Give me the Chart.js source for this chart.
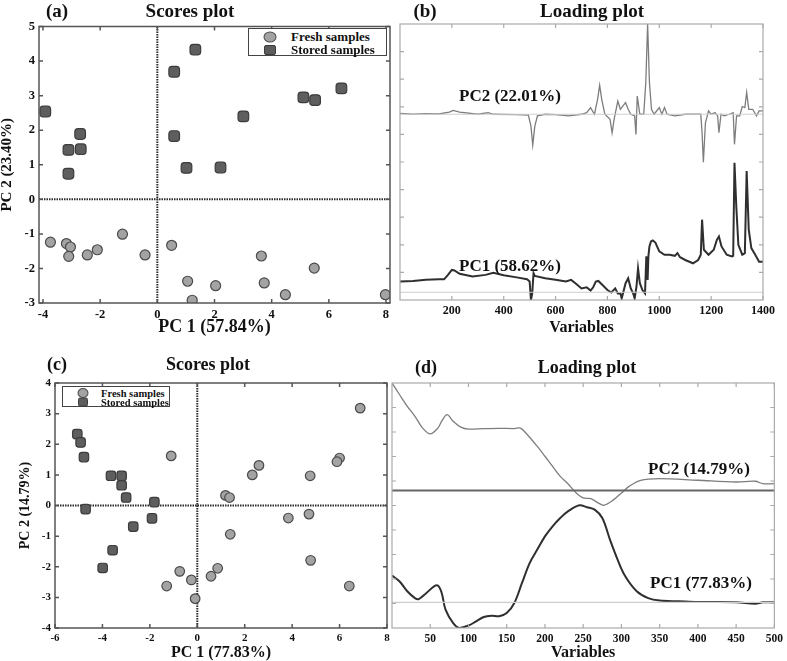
<!DOCTYPE html>
<html>
<head>
<meta charset="utf-8">
<script src="https://cdn.jsdelivr.net/npm/chart.js@4.4.1/dist/chart.umd.min.js"></script>
<style>
  body { margin: 0; background: #fff; width: 787px; height: 661px; position: relative; overflow: hidden;
         font-family: 'Liberation Serif', 'Times New Roman', serif; font-weight: bold; color: #111; }
  .box { position: absolute; }
  .txt { position: absolute; white-space: nowrap; transform: translate(-50%, -50%); }
  .legend { position: absolute; border: 1px solid #444; background: #fff; }
  .legend div { position: absolute; white-space: nowrap; transform: translateY(-50%); }
  .mk { position: absolute; transform: translate(-50%, -50%); }
  .mk.fresh { background: #a3a3a3; border: 1px solid #4a4a4a; border-radius: 50%; }
  .mk.stored { background: #5e5e5e; border: 1px solid #3c3c3c; border-radius: 2px; }
</style>
</head>
<body>
<div class="box" style="left:0;top:15px;width:401px;height:327px"><canvas id="chartA"></canvas></div>
<div class="box" style="left:396px;top:15px;width:391px;height:327px"><canvas id="chartB"></canvas></div>
<div class="box" style="left:18px;top:370px;width:377px;height:291px"><canvas id="chartC"></canvas></div>
<div class="box" style="left:388px;top:370px;width:399px;height:291px"><canvas id="chartD"></canvas></div>

<div class="txt" style="left:57px;top:11px;font-size:19px">(a)</div>
<div class="txt" style="left:190px;top:11px;font-size:19px">Scores plot</div>
<div class="txt" style="left:425px;top:11px;font-size:19px">(b)</div>
<div class="txt" style="left:592px;top:11px;font-size:19px">Loading plot</div>
<div class="txt" style="left:57px;top:364px;font-size:18px">(c)</div>
<div class="txt" style="left:208px;top:364px;font-size:18px">Scores plot</div>
<div class="txt" style="left:426px;top:367px;font-size:18px">(d)</div>
<div class="txt" style="left:587px;top:367px;font-size:18px">Loading plot</div>

<div class="txt" style="left:510px;top:96px;font-size:17px">PC2 (22.01%)</div>
<div class="txt" style="left:510px;top:266px;font-size:17px">PC1 (58.62%)</div>
<div class="txt" style="left:699px;top:469px;font-size:17px">PC2 (14.79%)</div>
<div class="txt" style="left:701px;top:583px;font-size:17px">PC1 (77.83%)</div>

<div class="legend" style="left:248px;top:28px;width:137px;height:26px;font-size:13px">
  <span class="mk fresh" style="left:21px;top:8px;width:11px;height:9px"></span>
  <div style="left:42px;top:8px">Fresh samples</div>
  <span class="mk stored" style="left:21px;top:21px;width:10px;height:8px"></span>
  <div style="left:42px;top:21px">Stored samples</div>
</div>
<div class="legend" style="left:62px;top:386px;width:106px;height:19px;font-size:10.5px">
  <span class="mk fresh" style="left:20px;top:6px;width:9px;height:8px"></span>
  <div style="left:38px;top:6px">Fresh samples</div>
  <span class="mk stored" style="left:20px;top:15px;width:8px;height:7px"></span>
  <div style="left:38px;top:15px">Stored samples</div>
</div>

<script>
// ---- (a) scores, PC1 (57.84%) vs PC2 (23.40%)
const freshAx = [-3.74, -3.18, -3.04, -3.10, -2.45, -2.10, -1.22, -0.43, 0.50, 1.06, 1.22, 2.04, 3.64, 3.74, 4.48, 5.49, 7.98];
const freshAy = [-1.24, -1.28, -1.38, -1.65, -1.61, -1.46, -1.01, -1.61, -1.33, -2.37, -2.92, -2.50, -1.64, -2.42, -2.76, -1.99, -2.76];
const storedAx = [-3.92, -3.11, -3.11, -2.70, -2.68, 0.59, 1.33, 0.59, 1.02, 2.21, 3.01, 5.11, 5.52, 6.44];
const storedAy = [2.54, 1.43, 0.74, 1.89, 1.45, 3.69, 4.33, 1.83, 0.91, 0.92, 2.40, 2.95, 2.87, 3.21];
const ticksAx = [-4, -2, 0, 2, 4, 6, 8];
const ticksAy = [-3, -2, -1, 0, 1, 2, 3, 4, 5];

// ---- (c) scores, PC1 (77.83%) vs PC2 (14.79%)
const freshCx = [-1.10, 6.87, 6.00, 5.89, 4.76, 2.60, 2.32, 1.19, 1.36, 4.71, 3.84, 1.39, 4.78, 6.41, -0.74, 0.86, 0.58, -0.25, -1.29, -0.09];
const freshCy = [1.62, 3.18, 1.55, 1.43, 0.97, 1.31, 1.00, 0.33, 0.26, -0.28, -0.41, -0.94, -1.79, -2.63, -2.15, -2.05, -2.31, -2.43, -2.63, -3.04];
const storedCx = [-5.06, -4.92, -4.78, -4.71, -3.64, -3.19, -3.19, -3.00, -1.81, -1.91, -2.70, -3.57, -3.99];
const storedCy = [2.33, 2.06, 1.58, -0.12, 0.97, 0.97, 0.66, 0.26, 0.11, -0.42, -0.69, -1.46, -2.04];
const ticksCx = [-6, -4, -2, 0, 2, 4, 6, 8];
const ticksCy = [-4, -3, -2, -1, 0, 1, 2, 3, 4];

// ---- (b) loadings, [variable, offset loading] (arbitrary units, curves stacked)
const pc2B = [[0,67.6],[50,67.3],[100,67.5],[150,67.4],[190,68.1],[205,68.7],[230,68.1],[300,67.3],[340,67.9],[360,67.3],
  [450,67.2],[495,67.0],[505,63.0],[512,56.1],[520,63.0],[530,66.7],[560,67.3],[600,67.2],[650,66.7],[700,67.3],
  [720,67.9],[735,69.7],[750,67.3],[762,72.7],[770,77.8],[778,72.7],[790,67.3],[810,65.5],[818,60.6],[826,65.5],
  [840,72.1],[850,69.1],[860,70.3],[870,71.5],[880,69.1],[890,67.3],[905,66.7],[910,60.0],[915,73.9],[925,67.3],
  [940,67.3],[948,78.8],[955,100],[962,78.8],[970,69.1],[980,67.3],[1000,69.7],[1010,67.3],[1020,69.7],[1030,67.3],
  [1060,66.7],[1100,67.3],[1160,67.3],[1165,60.6],[1170,49.9],[1178,64.2],[1190,68.5],[1200,67.3],[1215,67.9],[1225,66.7],
  [1230,60.6],[1238,67.3],[1250,66.7],[1270,67.3],[1285,67.9],[1290,56.4],[1298,66.7],[1310,66.7],[1320,70.1],[1330,69.7],
  [1337,75.2],[1345,69.1],[1360,69.1],[1375,66.7],[1385,68.5],[1400,68.5]];
const pc1B = [[0,6.7],[50,6.9],[100,7.3],[150,7.5],[170,7.5],[185,9.1],[200,10.9],[210,10.7],[230,9.5],[280,8.5],
  [330,9.1],[360,9.9],[400,9.0],[450,8.2],[490,7.5],[500,6.7],[505,0],[510,2.4],[515,9.7],[520,8.7],
  [560,7.9],[600,7.3],[640,6.7],[660,7.3],[680,5.8],[700,4.2],[720,4.6],[735,3.4],[745,4.6],[755,6.7],
  [765,6.9],[780,5.5],[800,3.6],[815,2.7],[830,4.2],[840,2.4],[850,2.4],[855,0.6],[860,2.4],[870,6.1],
  [880,7.9],[890,4.2],[900,2.2],[905,0.6],[912,4.8],[918,11.5],[925,6.1],[935,3.6],[945,2.4],[950,15.8],
  [955,7.3],[958,15.8],[962,19.4],[968,21.2],[975,21.6],[985,20.8],[1000,17.6],[1020,16.4],[1040,16.4],[1060,16.0],
  [1070,17.0],[1080,15.5],[1100,14.5],[1130,13.3],[1150,14.5],[1160,16.4],[1165,29.1],[1172,18.2],[1190,16.4],[1210,18.2],
  [1222,21.8],[1230,23.0],[1240,19.4],[1260,16.4],[1280,15.8],[1285,16.0],[1290,49.7],[1297,33.9],[1305,20.0],[1320,16.4],
  [1330,17.0],[1337,46.7],[1345,25.5],[1355,18.8],[1370,16.4],[1385,13.9],[1400,13.9]];
const baseB = [67.3, 2.8];   // zero lines of PC2, PC1
const ticksBx = [200, 400, 600, 800, 1000, 1200, 1400];

// ---- (d) loadings
const pc2D = [[0,100],[10,95.2],[20,90.5],[30,86.4],[40,81.6],[50,79.2],[60,81.6],[65,84.4],[72,87.1],[80,84.4],
  [90,82.0],[100,81.2],[120,81.4],[140,81.5],[160,81.4],[168,81.6],[175,79.6],[190,74.1],[200,70.1],[210,66.0],
  [220,61.9],[230,58.9],[240,55.4],[250,53.1],[260,52.8],[270,51.0],[277,50.1],[290,52.4],[300,55.1],[310,57.8],
  [325,60.3],[350,61.0],[400,60.3],[450,59.6],[475,59.9],[485,58.9],[500,58.9]];
const pc1D = [[0,21.4],[10,19.0],[20,15.0],[30,12.2],[35,11.8],[45,14.3],[55,17.0],[60,17.3],[65,14.3],[70,7.5],
  [80,2.0],[88,0],[100,1.0],[110,2.7],[120,4.5],[130,5.0],[140,4.8],[150,6.1],[160,10.2],[170,18.4],
  [180,26.5],[190,32.0],[200,37.4],[210,41.5],[220,44.9],[230,47.6],[245,50.1],[255,49.3],[265,48.3],[275,44.9],
  [285,36.1],[295,27.9],[305,21.1],[320,15.0],[335,12.2],[350,11.2],[375,10.9],[400,10.6],[450,10.5],[475,9.9],
  [485,10.5],[500,10.5]];
const baseD = [56.1, 10.5];
const ticksDx = [50, 100, 150, 200, 250, 300, 350, 400, 450, 500];
const ticksLoadY = [10, 20, 30, 40, 50, 60, 70, 80, 90];

Chart.defaults.font.family = "'Liberation Serif', 'Times New Roman', serif";
Chart.defaults.font.weight = 'bold';
Chart.defaults.color = '#111';

// box round the plot, inward tick marks, dotted zero lines
const framePlugin = {
  id: 'frame',
  beforeDatasetsDraw(chart, args, opts) {
    if (!opts.zero) return;
    const {ctx, chartArea: a, scales: {x, y}} = chart;
    ctx.save();
    ctx.strokeStyle = '#2a2a2a';
    ctx.lineWidth = 2;
    ctx.setLineDash([1.5, 1]);
    const x0 = x.getPixelForValue(0), y0 = y.getPixelForValue(0);
    ctx.beginPath();
    ctx.moveTo(x0, a.top); ctx.lineTo(x0, a.bottom);
    ctx.moveTo(a.left, y0); ctx.lineTo(a.right, y0);
    ctx.stroke();
    ctx.restore();
  },
  afterDatasetsDraw(chart, args, opts) {
    const {ctx, chartArea: a, scales: {x, y}} = chart;
    ctx.save();
    ctx.strokeStyle = opts.color;
    ctx.lineWidth = opts.width;
    ctx.strokeRect(a.left, a.top, a.right - a.left, a.bottom - a.top);
    const len = 4;
    ctx.beginPath();
    x.ticks.forEach(t => {
      const p = x.getPixelForValue(t.value);
      ctx.moveTo(p, a.bottom); ctx.lineTo(p, a.bottom - len);
      ctx.moveTo(p, a.top); ctx.lineTo(p, a.top + len);
    });
    y.ticks.forEach(t => {
      const p = y.getPixelForValue(t.value);
      ctx.moveTo(a.left, p); ctx.lineTo(a.left + len, p);
      ctx.moveTo(a.right, p); ctx.lineTo(a.right - len, p);
    });
    ctx.stroke();
    ctx.restore();
  }
};

function pts(xs, ys) {
  return xs.map((v, i) => ({x: v, y: ys[i]}));
}
function pairs(arr) {
  return arr.map(p => ({x: p[0], y: p[1]}));
}

function axis(min, max, tickVals, opts) {
  return {
    min: min, max: max,
    grid: {display: false, drawTicks: false},
    border: {display: false},
    afterBuildTicks: s => { s.ticks = tickVals.map(v => ({value: v})); },
    ticks: {padding: 4, autoSkip: false, maxRotation: 0, font: {size: opts.size},
            display: opts.labels !== false, callback: v => String(v)},
    title: opts.title ? {display: true, text: opts.title, font: {size: opts.titleSize, lineHeight: 1},
                         padding: {top: 0, bottom: opts.tpad || 0}} : {display: false},
    afterFit: opts.fit
  };
}

function scoresChart(id, fx, fy, sx, sy, o) {
  return new Chart(document.getElementById(id), {
    type: 'scatter',
    data: {
      datasets: [
        {label: 'Fresh samples', data: pts(fx, fy), pointStyle: 'circle', pointRadius: o.r,
         backgroundColor: '#a3a3a3', borderColor: '#4a4a4a', borderWidth: 1.2},
        {label: 'Stored samples', data: pts(sx, sy), pointStyle: 'rectRounded', pointRadius: o.rs,
         backgroundColor: '#5e5e5e', borderColor: '#3c3c3c', borderWidth: 1.2}
      ]
    },
    options: {
      responsive: true, maintainAspectRatio: false, animation: false,
      layout: {padding: o.pad},
      plugins: {legend: {display: false}, tooltip: {enabled: false},
                frame: {zero: true, color: '#555', width: 1.5}},
      scales: {
        x: axis(o.x[0], o.x[1], o.xticks, {size: o.tick, title: o.xt, titleSize: o.xts, tpad: o.tpad,
             fit: s => { s.height = o.xh; }}),
        y: axis(o.y[0], o.y[1], o.yticks, {size: o.tick, title: o.yt, titleSize: o.yts, tpad: 2,
             fit: s => { s.width = o.yw; }})
      }
    },
    plugins: [framePlugin]
  });
}

function loadingChart(id, pc2, pc1, base, o) {
  const xmin = o.x[0], xmax = o.x[1];
  const line = (data, color, w) => ({data: pairs(data), showLine: true, pointRadius: 0,
    borderColor: color, borderWidth: w, tension: o.tension, fill: false});
  return new Chart(document.getElementById(id), {
    type: 'scatter',
    data: {
      datasets: [
        {data: [{x: xmin, y: base[0]}, {x: xmax, y: base[0]}], showLine: true, pointRadius: 0,
         borderColor: o.base2, borderWidth: o.base2w},
        {data: [{x: xmin, y: base[1]}, {x: xmax, y: base[1]}], showLine: true, pointRadius: 0,
         borderColor: '#cdcdcd', borderWidth: 1.2},
        line(pc2, '#7d7d7d', 1.3),
        line(pc1, '#2f2f2f', 2)
      ]
    },
    options: {
      responsive: true, maintainAspectRatio: false, animation: false,
      layout: {padding: o.pad},
      plugins: {legend: {display: false}, tooltip: {enabled: false},
                frame: {zero: false, color: '#aaa', width: 1.2}},
      scales: {
        x: axis(xmin, xmax, o.xticks, {size: o.tick, title: 'Variables', titleSize: o.xts, tpad: o.tpad,
             fit: s => { s.height = o.xh; }}),
        y: axis(0, 100, ticksLoadY, {labels: false, fit: s => { s.width = 4; }})
      }
    },
    plugins: [framePlugin]
  });
}

scoresChart('chartA', freshAx, freshAy, storedAx, storedAy, {
  x: [-4.14, 8.14], y: [-3, 5], xticks: ticksAx, yticks: ticksAy, r: 5, rs: 6.2, tick: 12.5,
  xt: 'PC 1 (57.84%)', xts: 18, yt: 'PC 2 (23.40%)', yts: 15, tpad: 6,
  pad: {top: 10, right: 11, left: 0, bottom: 0}, xh: 39, yw: 39
});
loadingChart('chartB', pc2B, pc1B, baseB, {
  x: [0, 1400], xticks: ticksBx, tick: 12, xts: 16, tension: 0, base2: '#cfcfcf', base2w: 1.2, tpad: 6,
  pad: {top: 9, right: 24, left: 0, bottom: 0}, xh: 42
});
scoresChart('chartC', freshCx, freshCy, storedCx, storedCy, {
  x: [-6, 8], y: [-4, 4], xticks: ticksCx, yticks: ticksCy, r: 4.8, rs: 5.5, tick: 11,
  xt: 'PC 1 (77.83%)', xts: 16, yt: 'PC 2 (14.79%)', yts: 14, tpad: 0,
  pad: {top: 13, right: 8, left: 0, bottom: 0}, xh: 33, yw: 37
});
loadingChart('chartD', pc2D, pc1D, baseD, {
  x: [0, 500], xticks: ticksDx, tick: 11.5, xts: 16, tension: 0.35, base2: '#666', base2w: 2, tpad: 0,
  pad: {top: 13, right: 9, left: 0, bottom: 0}, xh: 33
});
</script>
</body>
</html>
